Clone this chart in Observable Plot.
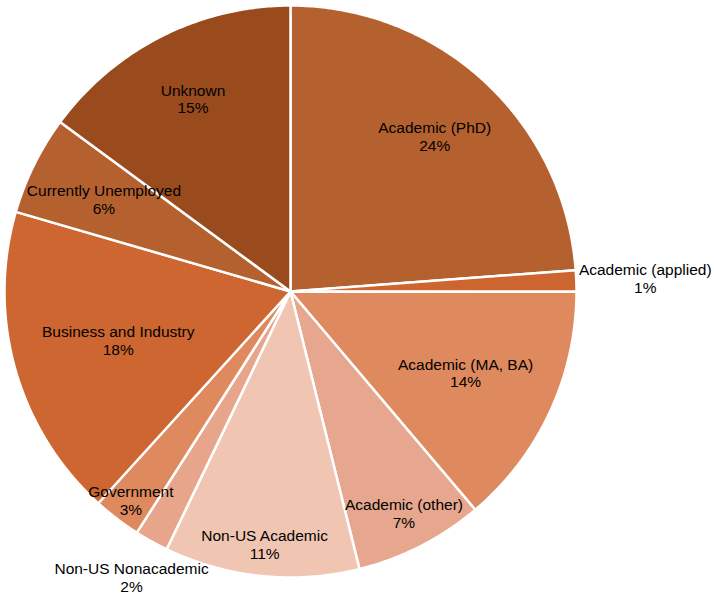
<!DOCTYPE html>
<html><head><meta charset="utf-8">
<script src="https://cdn.jsdelivr.net/npm/d3@7"></script>
<script src="https://cdn.jsdelivr.net/npm/@observablehq/plot@0.6"></script>
<style>body{margin:0;background:#fff}</style>
</head><body><div id="chart"></div>
<script>
// ---- data ----
const categories = ["Academic (PhD)", "Academic (applied)", "Academic (MA, BA)", "Academic (other)", "Non-US Academic", "Non-US Nonacademic", "Government", "Business and Industry", "Currently Unemployed", "Unknown"];
const shares = [23.8, 1.2, 13.8, 7.3, 11.0, 1.9, 2.7, 17.75, 5.6, 14.9];
const colors = ["#b5612f", "#cc6530", "#df895e", "#e6a78e", "#f0c6b3", "#e7a68b", "#df895e", "#cd6630", "#b5612f", "#9a4b1e"];

// ---- layout ----
const R = 286;
const labelRadius = [212, 355, 193, 249, 254, 327, 263, 179, 208, 216];
const total = d3.sum(shares);
const pts = [];
const labels = [];
let acc = 0;
categories.forEach((cat, i) => {
  const a0 = acc / total * 2 * Math.PI;
  acc += shares[i];
  const a1 = acc / total * 2 * Math.PI;
  const n = Math.max(2, Math.ceil((a1 - a0) / (Math.PI / 360)));
  pts.push({cat, x: 0, y: 0});
  for (let k = 0; k <= n; k++) {
    const a = a0 + (a1 - a0) * k / n;
    pts.push({cat, x: R * Math.sin(a), y: R * Math.cos(a)});
  }
  pts.push({cat, x: 0, y: 0});
  const am = (a0 + a1) / 2, r = labelRadius[i];
  labels.push({x: r * Math.sin(am), y: r * Math.cos(am), text: cat + "\n" + Math.round(shares[i]) + "%"});
});

const chart = Plot.plot({
  width: 714,
  height: 595,
  margin: 0,
  style: {fontFamily: "'Liberation Sans', Arial, Helvetica, sans-serif", background: "#fff"},
  x: {domain: [-290, 424], axis: null},
  y: {domain: [-304, 291], axis: null},
  color: {domain: categories, range: colors},
  marks: [
    Plot.line(pts, {x: "x", y: "y", z: "cat", fill: "cat", stroke: "white", strokeWidth: 2.5, strokeLinejoin: "round", curve: "linear"}),
    Plot.text(labels, {x: "x", y: "y", text: "text", fontSize: 15.5, lineHeight: 1.15, fill: "#000"})
  ]
});
document.getElementById("chart").appendChild(chart);
</script>
</body></html>
